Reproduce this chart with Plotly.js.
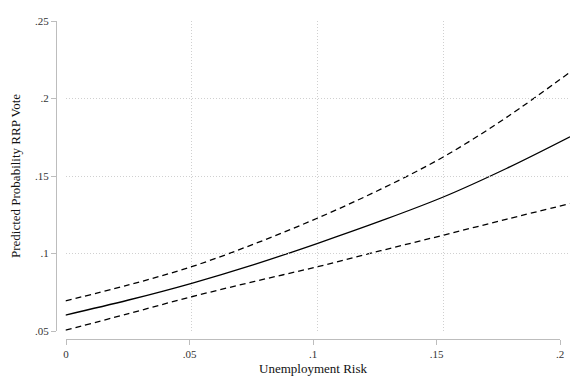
<!DOCTYPE html>
<html>
<head>
<meta charset="utf-8">
<script src="https://cdn.plot.ly/plotly-3.0.1.min.js"></script>
<style>html,body{margin:0;padding:0;background:#fff;}#chart{width:574px;height:376px;}</style>
</head>
<body>
<div id="chart"></div>
<script>
const risk = [0, 0.025, 0.05, 0.075, 0.1, 0.125, 0.15, 0.175, 0.2];
const predicted = [0.0603, 0.0700, 0.0808, 0.0930, 0.1066, 0.1210, 0.1366, 0.1550, 0.1753];
const upperCI = [0.0695, 0.0797, 0.0915, 0.1063, 0.1229, 0.1415, 0.1625, 0.1880, 0.2170];
const lowerCI = [0.0505, 0.0612, 0.0721, 0.0820, 0.0915, 0.1018, 0.1119, 0.1222, 0.1322];
const xTickVals = [0, 0.05, 0.1, 0.15, 0.2];
const xTickText = ['0', '.05', '.1', '.15', '.2'];
const yTickVals = [0.05, 0.1, 0.15, 0.2, 0.25];
const yTickText = ['.05', '.1', '.15', '.2', '.25'];

const W = 574, H = 376;
const ml = 56, mr = 4, mt = 21, mb = 37;
const pw = W - ml - mr, ph = H - mt - mb;
const font = 'Liberation Serif, Times New Roman, serif';
const lineCol = '#bdbdbd';
const gridCol = '#d0d0d0';

const traces = [
  {x: risk, y: upperCI, type: 'scatter', mode: 'lines', line: {color: '#000', width: 1.3, dash: '6px,4px', shape: 'spline'}, xaxis: 'x', yaxis: 'y', hoverinfo: 'skip'},
  {x: risk, y: predicted, type: 'scatter', mode: 'lines', line: {color: '#000', width: 1.3, shape: 'spline'}, xaxis: 'x', yaxis: 'y', hoverinfo: 'skip'},
  {x: risk, y: lowerCI, type: 'scatter', mode: 'lines', line: {color: '#000', width: 1.3, dash: '6px,4px', shape: 'spline'}, xaxis: 'x', yaxis: 'y', hoverinfo: 'skip'},
  {x: [], y: [], type: 'scatter', mode: 'lines', xaxis: 'x2', yaxis: 'y', hoverinfo: 'skip'}
];

const layout = {
  width: W, height: H,
  margin: {l: ml, r: mr, t: mt, b: mb, pad: 0},
  paper_bgcolor: '#fff', plot_bgcolor: 'rgba(0,0,0,0)',
  showlegend: false,
  font: {family: font, size: 11, color: '#333'},
  xaxis: {
    domain: [(65.5 - ml) / pw, 1],
    range: [0, 0.2],
    anchor: 'y',
    tickvals: xTickVals, showticklabels: false, ticks: '',
    showgrid: true, gridcolor: gridCol, griddash: '1px,2px', gridwidth: 1,
    zeroline: false, showline: false
  },
  xaxis2: {
    domain: [(66 - ml) / pw, (560 - ml) / pw],
    range: [0, 0.2],
    anchor: 'free', position: 0,
    tickvals: xTickVals, ticktext: xTickText,
    ticks: 'outside', ticklen: 5, tickcolor: lineCol, tickwidth: 1,
    showgrid: false, zeroline: false,
    showline: true, linecolor: lineCol, linewidth: 1,
    tickfont: {family: font, size: 11, color: '#333'},
    title: {text: 'Unemployment Risk', font: {family: font, size: 13, color: '#111'}, standoff: 4}
  },
  yaxis: {
    domain: [(H - mb - 331) / ph, 1],
    range: [0.05, 0.25],
    anchor: 'free', position: 0,
    tickvals: yTickVals, ticktext: yTickText,
    ticks: 'outside', ticklen: 5, tickcolor: lineCol, tickwidth: 1,
    showgrid: true, gridcolor: gridCol, griddash: '1px,2px', gridwidth: 1,
    zeroline: false,
    showline: true, linecolor: lineCol, linewidth: 1,
    tickfont: {family: font, size: 11, color: '#333'},
    title: {text: 'Predicted Probability RRP Vote', font: {family: font, size: 13, color: '#111'}, standoff: 10}
  }
};

Plotly.newPlot('chart', traces, layout, {staticPlot: true, displayModeBar: false});
</script>
</body>
</html>
